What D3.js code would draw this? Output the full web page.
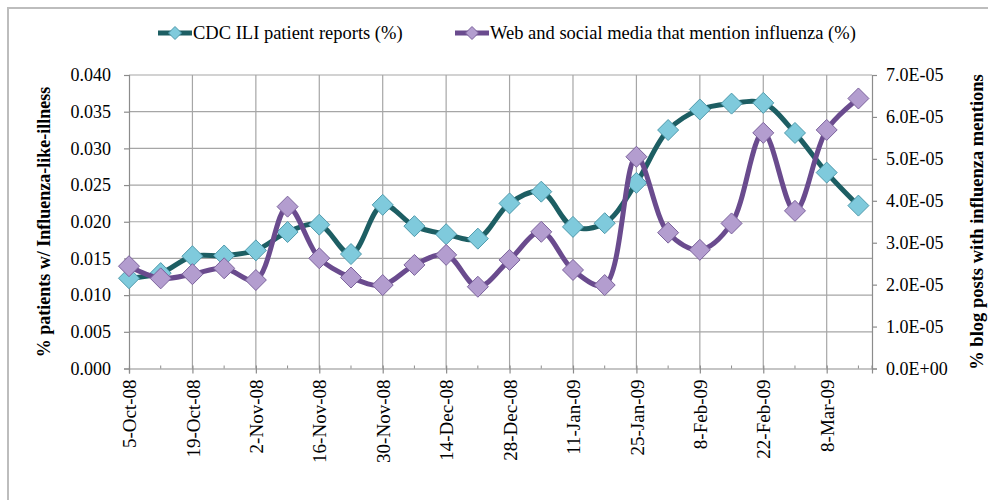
<!DOCTYPE html>
<html>
<head>
<meta charset="utf-8">
<script src="https://cdn.jsdelivr.net/npm/d3@7/dist/d3.min.js"></script>
<style>
  html, body { margin: 0; padding: 0; background: #fff; }
  svg { display: block; }
  text { font-family: "Liberation Serif", "Times New Roman", serif; fill: #000; }
</style>
</head>
<body>
<svg id="chart" width="988" height="500"></svg>
<script>
// Weekly dates (week starting), 5 Oct 2008 – 15 Mar 2009
const weeks = [
  "2008-10-05","2008-10-12","2008-10-19","2008-10-26","2008-11-02","2008-11-09",
  "2008-11-16","2008-11-23","2008-11-30","2008-12-07","2008-12-14","2008-12-21",
  "2008-12-28","2009-01-04","2009-01-11","2009-01-18","2009-01-25","2009-02-01",
  "2009-02-08","2009-02-15","2009-02-22","2009-03-01","2009-03-08","2009-03-15"
];

// CDC influenza-like-illness patient reports (left axis)
const cdcIli = [
  0.0123, 0.0130, 0.0153, 0.0154, 0.0161, 0.0186,
  0.0196, 0.0156, 0.0223, 0.0194, 0.0183, 0.0177,
  0.0225, 0.0241, 0.0193, 0.0198, 0.0253, 0.0325,
  0.0353, 0.0361, 0.0362, 0.0321, 0.0267, 0.0222
];

// Share of blog posts mentioning influenza (right axis)
const webMentions = [
  2.44e-5, 2.15e-5, 2.25e-5, 2.39e-5, 2.11e-5, 3.86e-5,
  2.63e-5, 2.17e-5, 1.99e-5, 2.47e-5, 2.71e-5, 1.95e-5,
  2.59e-5, 3.26e-5, 2.35e-5, 1.99e-5, 5.05e-5, 3.24e-5,
  2.83e-5, 3.46e-5, 5.62e-5, 3.76e-5, 5.69e-5, 6.44e-5
];

const leftTicks = [0, 0.005, 0.010, 0.015, 0.020, 0.025, 0.030, 0.035, 0.040];
const rightTicks = [0, 1e-5, 2e-5, 3e-5, 4e-5, 5e-5, 6e-5, 7e-5];
const seriesNames = ["CDC ILI patient reports (%)", "Web and social media that mention influenza (%)"];

const parse = d3.utcParse("%Y-%m-%d");
const dates = weeks.map(parse);
const labelDates = dates.filter((d, i) => i % 2 === 0);
const fmtDate = d => `${d.getUTCDate()}-${d3.utcFormat("%b")(d)}-${d3.utcFormat("%y")(d)}`;

const svg = d3.select("#chart");

// outer frame
svg.append("rect").attr("x", 8).attr("y", 8).attr("width", 1000).attr("height", 520)
  .attr("fill", "none").attr("stroke", "#bdbdbd").attr("stroke-width", 2);

const plot = { left: 129, right: 872, top: 75, bottom: 368.5 };

const x = d3.scaleUtc()
  .domain([parse("2008-10-05"), parse("2009-03-18")])
  .range([plot.left, plot.right]);
const yL = d3.scaleLinear().domain([0, 0.04]).range([plot.bottom, plot.top]);
const yR = d3.scaleLinear().domain([0, 7e-5]).range([plot.bottom, plot.top]);

const grid = svg.append("g").attr("stroke", "#a6a6a6").attr("stroke-width", 1.2);
// horizontal gridlines
grid.selectAll("line.h").data(leftTicks.slice(1)).join("line")
  .attr("x1", plot.left).attr("x2", plot.right)
  .attr("y1", d => yL(d)).attr("y2", d => yL(d));
// vertical gridlines at labelled weeks
grid.selectAll("line.v").data(labelDates.slice(1)).join("line")
  .attr("x1", d => x(d)).attr("x2", d => x(d))
  .attr("y1", plot.top).attr("y2", plot.bottom);

// left axis
const axL = svg.append("g").attr("transform", `translate(${plot.left},0)`)
  .call(d3.axisLeft(yL).tickValues(leftTicks).tickFormat(d3.format(".3f")).tickSizeOuter(0).tickSize(5).tickPadding(13));
// right axis
const expFmt = d => d === 0 ? "0.0E+00" : d.toExponential(1).toUpperCase().replace("E-", "E-0");
const axR = svg.append("g").attr("transform", `translate(${plot.right},0)`)
  .call(d3.axisRight(yR).tickValues(rightTicks).tickFormat(expFmt).tickSizeOuter(0).tickSize(5).tickPadding(9));
// bottom axis (major ticks every two weeks)
const axB = svg.append("g").attr("transform", `translate(0,${plot.bottom})`)
  .call(d3.axisBottom(x).tickValues(labelDates).tickFormat(fmtDate).tickSizeOuter(0).tickSize(5).tickPadding(8));
axB.selectAll(".tick line").attr("y1", -3);
// minor weekly ticks
svg.append("g").attr("stroke", "#8c8c8c").selectAll("line")
  .data(dates.filter((d, i) => i % 2 === 1)).join("line")
  .attr("x1", d => x(d)).attr("x2", d => x(d))
  .attr("y1", plot.bottom - 3).attr("y2", plot.bottom);
svg.append("line").attr("x1", plot.right).attr("x2", plot.right)
  .attr("y1", plot.bottom - 3).attr("y2", plot.bottom).attr("stroke", "#8c8c8c");

[axL, axR, axB].forEach(a => {
  a.selectAll("path, line").attr("stroke", "#8c8c8c").attr("stroke-width", 1.2);
  a.selectAll("text").attr("font-size", 18).attr("font-family", "Liberation Serif").attr("fill", "#000");
});
axB.selectAll("text")
  .attr("font-size", 19)
  .attr("transform", "rotate(-90)")
  .attr("text-anchor", "end")
  .attr("dy", "0.35em")
  .attr("x", -11).attr("y", 0);

// axis titles
svg.append("text").attr("transform", "translate(50,222) rotate(-90)")
  .attr("text-anchor", "middle").attr("font-size", 18).attr("font-weight", "bold")
  .text("% patients w/ Influenza-like-illness");
svg.append("text").attr("transform", "translate(983,222) rotate(-90)")
  .attr("text-anchor", "middle").attr("font-size", 18.5).attr("font-weight", "bold")
  .text("% blog posts with influenza mentions");

const styles = [
  { line: "#1d5e63", fill: "#7fcadc", stroke: "#4f9aac" },
  { line: "#6a4b8e", fill: "#b39dcf", stroke: "#7b629c" }
];
const diamond = r => `M0,${-r}L${r},0L0,${r}L${-r},0Z`;

function drawSeries(values, y, st) {
  const pts = values.map((v, i) => [x(dates[i]), y(v)]);
  svg.append("path").attr("d", d3.line().curve(d3.curveCatmullRom.alpha(0.5))(pts))
    .attr("fill", "none").attr("stroke", st.line).attr("stroke-width", 5)
    .attr("stroke-linejoin", "round");
  return pts;
}
function drawMarkers(pts, st) {
  svg.append("g").selectAll("path").data(pts).join("path")
    .attr("transform", d => `translate(${d[0]},${d[1]})`)
    .attr("d", diamond(10.5))
    .attr("fill", st.fill).attr("stroke", st.stroke).attr("stroke-width", 1);
}
const p1 = drawSeries(cdcIli, yL, styles[0]);
drawMarkers(p1, styles[0]);
const p2 = drawSeries(webMentions, yR, styles[1]);
drawMarkers(p2, styles[1]);

// legend
const legend = [
  { x: 158, name: seriesNames[0], st: styles[0] },
  { x: 455, name: seriesNames[1], st: styles[1] }
];
legend.forEach(l => {
  const g = svg.append("g").attr("transform", `translate(${l.x},33)`);
  g.append("line").attr("x1", 0).attr("x2", 34).attr("stroke", l.st.line).attr("stroke-width", 5);
  g.append("path").attr("transform", "translate(17,0)").attr("d", diamond(6.5))
    .attr("fill", l.st.fill).attr("stroke", l.st.stroke);
  g.append("text").attr("x", 35).attr("y", 0).attr("dy", "0.35em").attr("font-size", 18.5).text(l.name);
});
</script>
</body>
</html>
